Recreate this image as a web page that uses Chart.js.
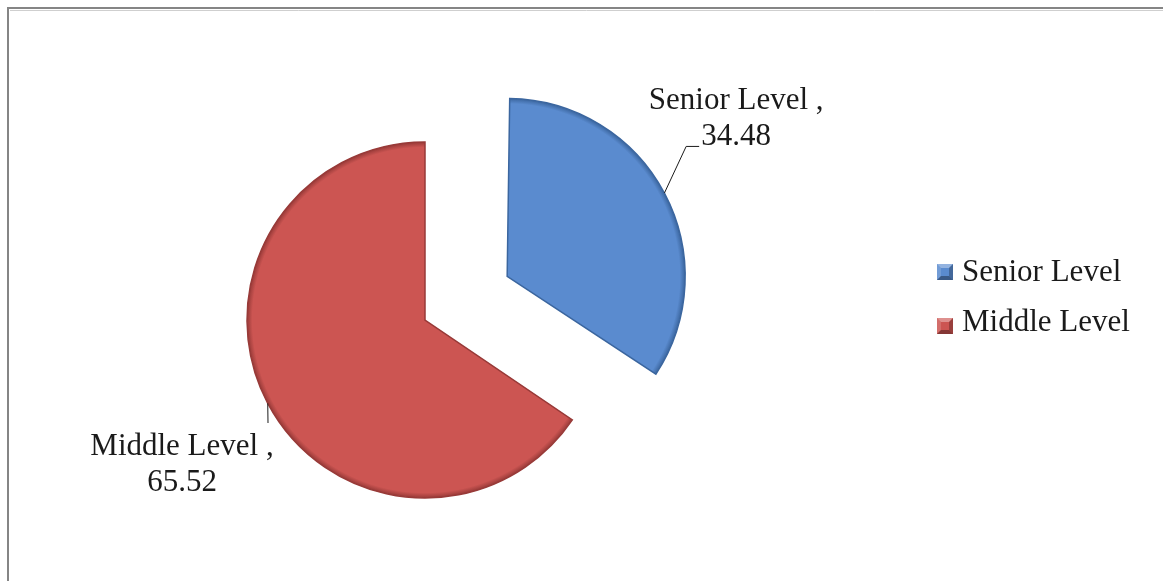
<!DOCTYPE html>
<html>
<head>
<meta charset="utf-8">
<script src="https://cdn.jsdelivr.net/npm/chart.js@4.4.0/dist/chart.umd.min.js"></script>
<style>
  html, body { margin: 0; padding: 0; background: #fff; }
  #painel { width: 1163px; height: 581px; position: relative; }
</style>
</head>
<body>
<div id="painel"><canvas id="grafico"></canvas></div>
<script>
// Dados do gráfico
const categorias = ['Senior Level', 'Middle Level'];
const percentuais = [34.48, 65.52];
const cores = ['#5a8bcf', '#cc5552'];
const coresBorda = ['#3b669f', '#983a38'];
const destaque = [372, 0]; // fatia "Senior" destacada da pizza

const RAIO = 178;
const FONTE = '31px "Liberation Serif", "Times New Roman", serif';

// Posição dos rótulos em relação ao centro de cada fatia
const posRotulo = [
  { dx: 229, dy: -167, guia: [[179, -130], [192, -130]] },
  { dx: -243, dy: 135, guia: [[-157, 103]] }
];

// Preenchimento com a borda escurecida (efeito de relevo)
function gradiente(contexto, i) {
  const area = contexto.chart.chartArea;
  if (!area) return cores[i];
  const cx = (area.left + area.right) / 2;
  const cy = (area.top + area.bottom) / 2;
  const g = contexto.chart.ctx.createRadialGradient(cx, cy, 0, cx, cy, RAIO);
  g.addColorStop(0, cores[i]);
  g.addColorStop(0.9, cores[i]);
  g.addColorStop(0.97, cores[i]);
  g.addColorStop(1, coresBorda[i]);
  return g;
}

// Moldura cinza
const moldura = {
  id: 'moldura',
  beforeDraw(chart) {
    const ctx = chart.ctx;
    ctx.save();
    ctx.strokeStyle = '#858585';
    ctx.lineWidth = 2;
    ctx.strokeRect(8, 8, 1163, 581);
    ctx.strokeStyle = '#cfcfcf';
    ctx.lineWidth = 1;
    ctx.beginPath();
    ctx.moveTo(10, 9.5 + 1);
    ctx.lineTo(1163, 9.5 + 1);
    ctx.stroke();
    ctx.restore();
  }
};

// O Chart.js aumenta o raio da fatia deslocada; aqui mantemos o mesmo raio
const ajusteRaio = {
  id: 'ajusteRaio',
  afterDatasetUpdate(chart, args) {
    args.meta.data.forEach((arco, i) => {
      const d = destaque[i] / 4;
      const fix = 1 - Math.sin(Math.min(Math.PI, arco.circumference));
      arco.outerRadius = RAIO - d * fix;
    });
  }
};

// Rótulos com linha guia
const rotulos = {
  id: 'rotulos',
  afterDatasetsDraw(chart) {
    const ctx = chart.ctx;
    const meta = chart.getDatasetMeta(0);
    ctx.save();
    ctx.font = FONTE;
    ctx.fillStyle = '#1a1a1a';
    ctx.strokeStyle = '#1a1a1a';
    ctx.lineWidth = 1;
    ctx.textAlign = 'center';
    ctx.textBaseline = 'alphabetic';
    meta.data.forEach((arco, i) => {
      const meio = (arco.startAngle + arco.endAngle) / 2;
      const d = destaque[i] / 4;
      const cx = arco.x + Math.cos(meio) * d;
      const cy = arco.y + Math.sin(meio) * d;
      const p = posRotulo[i];
      ctx.beginPath();
      ctx.moveTo(cx + Math.cos(meio) * RAIO, cy + Math.sin(meio) * RAIO);
      p.guia.forEach(([gx, gy]) => ctx.lineTo(cx + gx, cy + gy));
      ctx.stroke();
      ctx.fillText(categorias[i] + ' ,', cx + p.dx, cy + p.dy);
      ctx.fillText(percentuais[i].toFixed(2), cx + p.dx, cy + p.dy + 36);
    });
    ctx.restore();
  }
};

// Legenda à direita com marcadores em relevo
const legenda = {
  id: 'legenda',
  afterDraw(chart) {
    const ctx = chart.ctx;
    ctx.save();
    ctx.font = FONTE;
    ctx.fillStyle = '#1a1a1a';
    ctx.textAlign = 'left';
    categorias.forEach((nome, i) => {
      const x = 937, y = 264 + i * 54, t = 16, m = 4;
      ctx.fillStyle = cores[i];
      ctx.fillRect(x, y, t, t);
      const faces = [
        [[x, y], [x + t, y], [x + t - m, y + m], [x + m, y + m], 'rgba(255,255,255,0.35)'],
        [[x, y], [x + m, y + m], [x + m, y + t - m], [x, y + t], 'rgba(255,255,255,0.15)'],
        [[x + t, y], [x + t, y + t], [x + t - m, y + t - m], [x + t - m, y + m], 'rgba(0,0,0,0.25)'],
        [[x, y + t], [x + m, y + t - m], [x + t - m, y + t - m], [x + t, y + t], 'rgba(0,0,0,0.35)']
      ];
      faces.forEach(f => {
        ctx.beginPath();
        ctx.moveTo(...f[0]);
        ctx.lineTo(...f[1]);
        ctx.lineTo(...f[2]);
        ctx.lineTo(...f[3]);
        ctx.closePath();
        ctx.fillStyle = f[4];
        ctx.fill();
      });
      ctx.fillStyle = '#1a1a1a';
      ctx.fillText(nome, 962, 281 + i * 50);
    });
    ctx.restore();
  }
};

function carregarGrafico() {
  const config = {
    type: 'pie',
    data: {
      labels: categorias,
      datasets: [{
        data: percentuais,
        backgroundColor: (c) => gradiente(c, c.dataIndex),
        borderColor: coresBorda,
        borderWidth: 1.5,
        borderJoinStyle: 'miter',
        offset: destaque
      }]
    },
    options: {
      responsive: true,
      maintainAspectRatio: false,
      animation: false,
      radius: RAIO,
      layout: { padding: { left: 0, right: 313, top: 59, bottom: 0 } },
      plugins: {
        legend: { display: false },
        tooltip: { enabled: false }
      }
    },
    plugins: [moldura, ajusteRaio, rotulos, legenda]
  };
  new Chart(document.getElementById('grafico'), config);
}

document.addEventListener('DOMContentLoaded', carregarGrafico);
</script>
</body>
</html>
